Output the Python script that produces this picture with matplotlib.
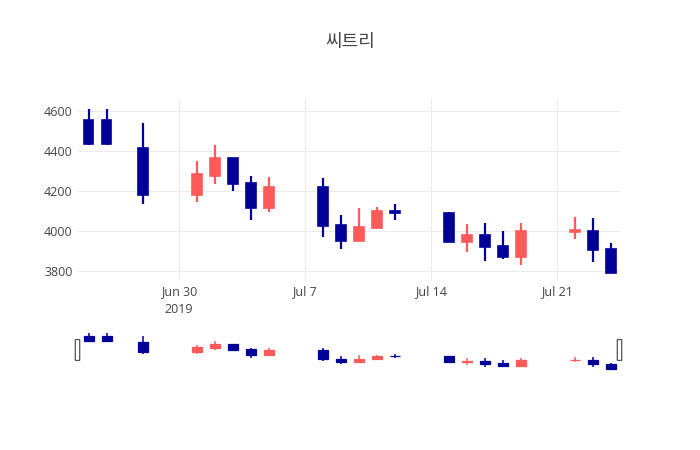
import matplotlib
matplotlib.use("Agg")
import matplotlib.pyplot as plt
import matplotlib.dates as mdates
from matplotlib.patches import Rectangle, FancyBboxPatch
import pandas as pd

# daily OHLC
dates = ["2019-06-25", "2019-06-26", "2019-06-28", "2019-07-01", "2019-07-02",
         "2019-07-03", "2019-07-04", "2019-07-05", "2019-07-08", "2019-07-09",
         "2019-07-10", "2019-07-11", "2019-07-12", "2019-07-15", "2019-07-16",
         "2019-07-17", "2019-07-18", "2019-07-19", "2019-07-22", "2019-07-23",
         "2019-07-24"]
opens = [4555, 4555, 4415, 4180, 4275, 4365, 4240, 4115, 4220, 4030,
         3950, 4015, 4100, 4090, 3945, 3980, 3925, 3870, 3995, 4000, 3910]
highs = [4610, 4610, 4540, 4350, 4430, 4365, 4275, 4270, 4265, 4080,
         4115, 4120, 4135, 4095, 4035, 4040, 4000, 4040, 4070, 4065, 3940]
lows = [4430, 4430, 4135, 4145, 4235, 4200, 4055, 4095, 3970, 3910,
        3950, 4010, 4055, 3945, 3895, 3850, 3860, 3830, 3960, 3845, 3790]
closes = [4435, 4435, 4180, 4285, 4365, 4235, 4115, 4220, 4025, 3950,
          4020, 4100, 4090, 3945, 3980, 3920, 3870, 4000, 4005, 3905, 3790]

title = "씨트리"
tick_dates = ["2019-06-30", "2019-07-07", "2019-07-14", "2019-07-21"]
tick_labels = ["Jun 30\n2019", "Jul 7", "Jul 14", "Jul 21"]
y_ticks = [3800, 4000, 4200, 4400, 4600]

UP = "#FF5A5A"
DOWN = "#000099"
GRID = "#EBEBEB"
TXT = "#444444"

x = mdates.date2num(pd.to_datetime(dates))
xmin = mdates.date2num(pd.Timestamp("2019-06-25")) - 0.6
xmax = mdates.date2num(pd.Timestamp("2019-07-24")) + 0.5
ylo, yhi = 3750, 4660

W, H = 700, 450
fig = plt.figure(figsize=(7, 4.5), dpi=100)


def draw_candles(ax, wick_lw, box_lw, width):
    for xi, o, h, l, c in zip(x, opens, highs, lows, closes):
        col = UP if c >= o else DOWN
        ax.plot([xi, xi], [l, h], color=col, lw=wick_lw, solid_capstyle="butt", zorder=2)
        lo, hi = min(o, c), max(o, c)
        ax.add_patch(Rectangle((xi - width / 2, lo), width, max(hi - lo, 0.1),
                               facecolor=col, edgecolor=col, lw=box_lw, zorder=3))


# main panel
ax = fig.add_axes([78 / W, 1 - 281 / H, (620 - 78) / W, 182 / H])
draw_candles(ax, 1.6, 1.2, 0.52)
ax.set_xlim(xmin, xmax)
ax.set_ylim(ylo, yhi)
ax.set_yticks(y_ticks)
ax.set_yticklabels([str(v) for v in y_ticks])
ax.set_xticks(mdates.date2num(pd.to_datetime(tick_dates)))
ax.set_xticklabels(tick_labels, linespacing=1.45)
ax.grid(True, color=GRID, lw=0.8)
ax.set_axisbelow(True)
for s in ax.spines.values():
    s.set_visible(False)
ax.tick_params(length=0, labelsize=9, labelcolor=TXT)
ax.tick_params(axis="x", pad=3)
ax.tick_params(axis="y", pad=4)
for lbl in ax.get_xticklabels() + ax.get_yticklabels():
    lbl.set_family(["Open Sans", "DejaVu Sans"])

# range slider
sl = fig.add_axes([78 / W, 1 - 371 / H, (620 - 78) / W, 40 / H])
draw_candles(sl, 1.1, 0.9, 0.56)
sl.set_xlim(xmin, xmax)
sl.set_ylim(ylo, yhi)
sl.set_xticks([])
sl.set_yticks([])
for s in sl.spines.values():
    s.set_visible(False)
for hx in (77.5, 619.5):
    fig.patches.append(FancyBboxPatch(((hx - 1.5) / W, 1 - 360 / H), 3 / W, 20 / H,
                                      boxstyle="round,pad=0.001",
                                      transform=fig.transFigure,
                                      facecolor="white", edgecolor="#555555", lw=0.9))

fig.text(350 / W, 1 - 42 / H, title, ha="center", va="center", fontsize=13,
         color=TXT, family=["Noto Sans CJK KR", "DejaVu Sans"])

fig.savefig("out.png", dpi=100)
